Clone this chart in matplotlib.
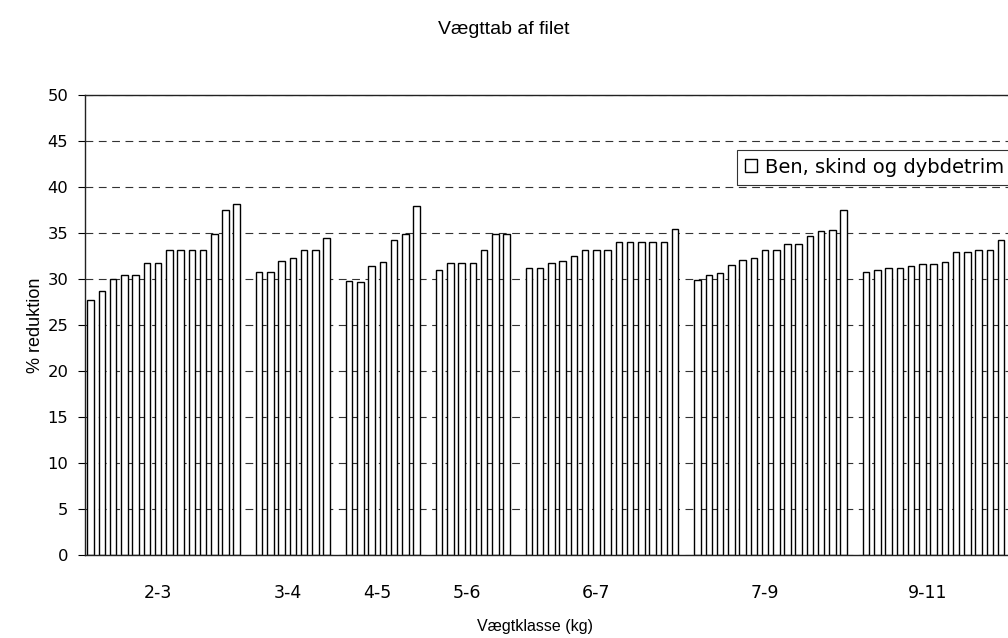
import numpy as np
import matplotlib
matplotlib.use("Agg")
import matplotlib.pyplot as plt

plt.rcParams["font.family"] = ["DejaVu Sans"]

# weight classes and % reduction per fillet
groups = ["2-3", "3-4", "4-5", "5-6", "6-7", "7-9", "9-11"]
values = [
    [27.7, 28.7, 30.0, 30.4, 30.4, 31.7, 31.7, 33.2, 33.2, 33.2, 33.2, 34.9, 37.5, 38.1],
    [30.8, 30.8, 32.0, 32.3, 33.2, 33.2, 34.5],
    [29.8, 29.7, 31.4, 31.8, 34.2, 34.9, 37.9],
    [31.0, 31.7, 31.7, 31.7, 33.2, 34.9, 34.9],
    [31.2, 31.2, 31.7, 32.0, 32.5, 33.2, 33.2, 33.2, 34.0, 34.0, 34.0, 34.0, 34.0, 35.4],
    [29.9, 30.4, 30.6, 31.5, 32.1, 32.3, 33.2, 33.2, 33.8, 33.8, 34.7, 35.2, 35.3, 37.5],
    [30.8, 31.0, 31.2, 31.2, 31.4, 31.6, 31.6, 31.8, 32.9, 32.9, 33.2, 33.2, 34.2],
]
series_name = "Ben, skind og dybdetrim"

# one blank category between groups
xs, ys, label_pos = [], [], []
pos = 0
for vals in values:
    n = len(vals)
    xs.extend(range(pos, pos + n))
    ys.extend(vals)
    label_pos.append(pos + (n - 1) / 2 - 0.5)
    pos += n + 1
ncat = pos

fig = plt.figure(figsize=(10.08, 6.38), dpi=100)
cat_w = 11.24 / 1008
ax = fig.add_axes([85 / 1008, 1 - 555 / 638, ncat * cat_w, 460 / 638])

ax.bar(xs, ys, width=0.58, color="white", edgecolor="black", linewidth=1.0,
       label=series_name, zorder=2)

ax.set_xlim(-0.5, ncat - 0.5)
ax.set_ylim(0, 50)
ax.set_yticks(np.arange(0, 51, 5))
ax.yaxis.grid(True, linestyle=(0, (7, 5)), color="#333333", linewidth=0.8)
ax.set_axisbelow(True)

ax.set_xticks(label_pos)
ax.set_xticklabels(groups)
ax.tick_params(axis="x", length=0, pad=21, labelsize=12.5)
ax.tick_params(axis="y", direction="out", length=5, width=0.8, pad=7, labelsize=11.8)

for side in ["left", "bottom", "top"]:
    ax.spines[side].set_linewidth(1.0)
    ax.spines[side].set_color("#222222")
ax.spines["right"].set_visible(False)

lib = ["Liberation Sans", "DejaVu Sans"]
fig.text(0.5, 1 - 30 / 638, "Vægttab af filet", ha="center", va="center",
         fontsize=14, family=lib)
fig.text(36 / 1008, 1 - 325 / 638, "% reduktion", ha="center", va="center",
         rotation=90, fontsize=13, family=lib)
fig.text(535 / 1008, 1 - 627 / 638, "Vægtklasse (kg)", ha="center", va="center",
         fontsize=11.5, family=lib)

leg = ax.legend(loc="upper left", bbox_to_anchor=(737 / 1008, 1 - 150 / 638),
                bbox_transform=fig.transFigure, frameon=True, fancybox=False,
                edgecolor="black", fontsize=14, handlelength=0.65, handleheight=0.65,
                handletextpad=0.4, borderpad=0.4, borderaxespad=0)
leg.get_frame().set_linewidth(0.8)

fig.savefig("out.png", dpi=100)
